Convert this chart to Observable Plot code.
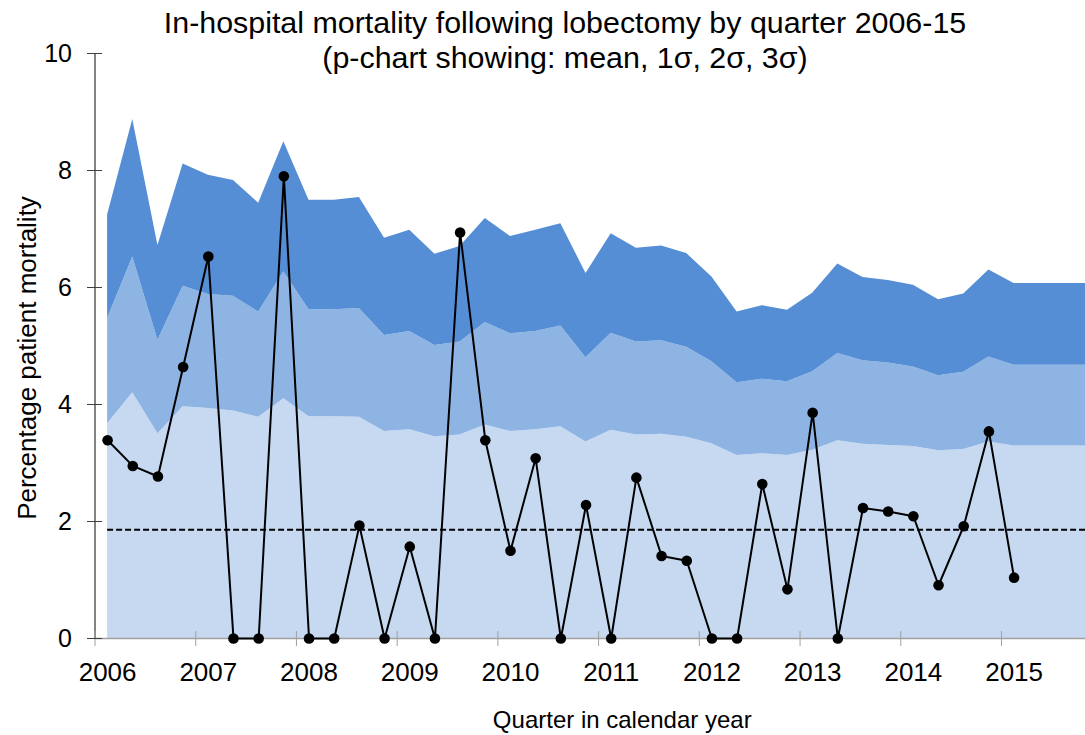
<!DOCTYPE html>
<html>
<head>
<meta charset="utf-8">
<script src="https://cdn.jsdelivr.net/npm/d3@7"></script>
<script src="https://cdn.jsdelivr.net/npm/@observablehq/plot@0.6"></script>
<style>
  html, body { margin: 0; padding: 0; background: #fff; overflow: hidden; }
  #wrap { position: relative; width: 1085px; height: 735px; }
  #title {
    position: absolute; top: 5px; left: 65px; width: 1000px; text-align: center;
    font-family: "Liberation Sans", Arial, sans-serif; font-size: 30.4px; line-height: 35px; color: #000;
  }
</style>
</head>
<body>
<div id="wrap">
  <div id="chart"></div>
  <div id="title">In-hospital mortality following lobectomy by quarter 2006-15<br>(p-chart showing: mean, 1σ, 2σ, 3σ)</div>
</div>
<script>
// ---- Data ----
const startYear = 2006;
const yearTicks = [2006, 2007, 2008, 2009, 2010, 2011, 2012, 2013, 2014, 2015];
const yearLabels = ["2006", "2007", "2008", "2009", "2010", "2011", "2012", "2013", "2014", "2015"];
const yTicks = [0, 2, 4, 6, 8, 10];
const yTickLabels = ["0", "2", "4", "6", "8", "10"];
const yLabel = "Percentage patient mortality";
const xLabel = "Quarter in calendar year";

// Quarterly in-hospital mortality (%), 2006 Q1 .. 2015 Q1
const mortality = [
  3.39, 2.95, 2.77, 4.64,
  6.53, 0, 0, 7.90,
  0, 0, 1.93, 0,
  1.57, 0, 6.94, 3.39,
  1.50, 3.08, 0, 2.28,
  0, 2.75, 1.41, 1.33,
  0, 0, 2.64, 0.84,
  3.86, 0, 2.23, 2.17,
  2.09, 0.91, 1.92, 3.54,
  1.04
];
const meanRate = 1.86;

// Upper control limits (%), 2006 Q1 .. 2015 Q4
const sigma1 = [
  3.67, 4.20, 3.50, 3.96, 3.93, 3.89, 3.78, 4.10, 3.79, 3.79,
  3.78, 3.54, 3.57, 3.45, 3.48, 3.65, 3.54, 3.57, 3.62, 3.36,
  3.56, 3.48, 3.49, 3.44, 3.33, 3.13, 3.16, 3.13, 3.22, 3.38,
  3.32, 3.30, 3.28, 3.21, 3.23, 3.36, 3.29, 3.29, 3.29, 3.29
];
const sigma2 = [
  5.47, 6.52, 5.10, 6.02, 5.88, 5.85, 5.58, 6.27, 5.62, 5.62,
  5.64, 5.18, 5.25, 5.01, 5.07, 5.40, 5.21, 5.25, 5.34, 4.80,
  5.22, 5.07, 5.09, 4.98, 4.73, 4.37, 4.43, 4.39, 4.56, 4.87,
  4.75, 4.71, 4.64, 4.49, 4.55, 4.81, 4.67, 4.67, 4.67, 4.67
];
const sigma3 = [
  7.24, 8.87, 6.72, 8.11, 7.92, 7.83, 7.44, 8.49, 7.49, 7.49,
  7.54, 6.84, 6.98, 6.57, 6.70, 7.18, 6.87, 6.98, 7.09, 6.24,
  6.92, 6.67, 6.71, 6.58, 6.18, 5.58, 5.69, 5.61, 5.90, 6.40,
  6.17, 6.12, 6.04, 5.79, 5.89, 6.30, 6.07, 6.07, 6.07, 6.07
];

// ---- Build tables ----
const quarterPos = i => startYear + i / 4 + 0.125; // centre of quarter i
const bands = sigma1.map((s, i) => ({t: quarterPos(i), s1: s, s2: sigma2[i], s3: sigma3[i]}));
const points = mortality.map((v, i) => ({t: quarterPos(i), v}));
const labelPos = yearTicks.map(y => y + 0.125);
const labelMap = new Map(labelPos.map((p, i) => [p, yearLabels[i]]));
const yLabelMap = new Map(yTicks.map((v, i) => [v, yTickLabels[i]]));

const font = "'Liberation Sans', Arial, sans-serif";

const chart = Plot.plot({
  width: 1085,
  height: 735,
  marginTop: 53,
  marginBottom: 97,
  marginLeft: 94.5,
  marginRight: 0,
  x: {domain: [2006, 2015.834], label: null},
  y: {domain: [0, 10], label: null},
  style: {fontFamily: font, background: "transparent", color: "#000", overflow: "visible"},
  marks: [
    Plot.areaY(bands, {x: "t", y1: 0, y2: "s1", fill: "#C6D9F1", clip: true}),
    Plot.areaY(bands, {x: "t", y1: "s1", y2: "s2", fill: "#8EB4E3", clip: true}),
    Plot.areaY(bands, {x: "t", y1: "s2", y2: "s3", fill: "#558ED5", clip: true}),
    Plot.ruleY([0], {stroke: "#A0A0A0", strokeWidth: 1.5}),
    Plot.ruleX([2006], {stroke: "#404040", strokeWidth: 1.3}),
    Plot.ruleY([meanRate], {x1: bands[0].t, x2: bands[bands.length - 1].t, stroke: "#000", strokeWidth: 2, strokeDasharray: "6,3", clip: true}),
    Plot.line(points, {x: "t", y: "v", stroke: "#000", strokeWidth: 2}),
    Plot.dot(points, {x: "t", y: "v", r: 5.3, fill: "#000"}),
    // x ticks at year boundaries (crossing the axis line)
    Plot.axisX(yearTicks, {anchor: "bottom", tickSize: 15, dy: -7, stroke: "#A0A0A0", tickFormat: () => "", label: null}),
    // x labels centred on each year's first quarter
    Plot.axisX(labelPos, {anchor: "bottom", tickSize: 0, tickPadding: 24, fontSize: 26, tickFormat: d => labelMap.get(d), label: null}),
    // y ticks (crossing the axis line) and labels
    Plot.axisY(yTicks, {anchor: "left", tickSize: 15, dx: 7.5, stroke: "#404040", tickFormat: () => "", label: null}),
    Plot.axisY(yTicks, {anchor: "left", tickSize: 0, tickPadding: 23, fontSize: 25, tickFormat: d => yLabelMap.get(d), label: null}),
    Plot.text([yLabel], {frameAnchor: "left", textAnchor: "middle", rotate: -90, dx: -67, dy: 12, fontSize: 26}),
    Plot.text([xLabel], {frameAnchor: "bottom", dx: 32, dy: 89.5, fontSize: 24})
  ]
});
document.getElementById("chart").appendChild(chart);
</script>
</body>
</html>
